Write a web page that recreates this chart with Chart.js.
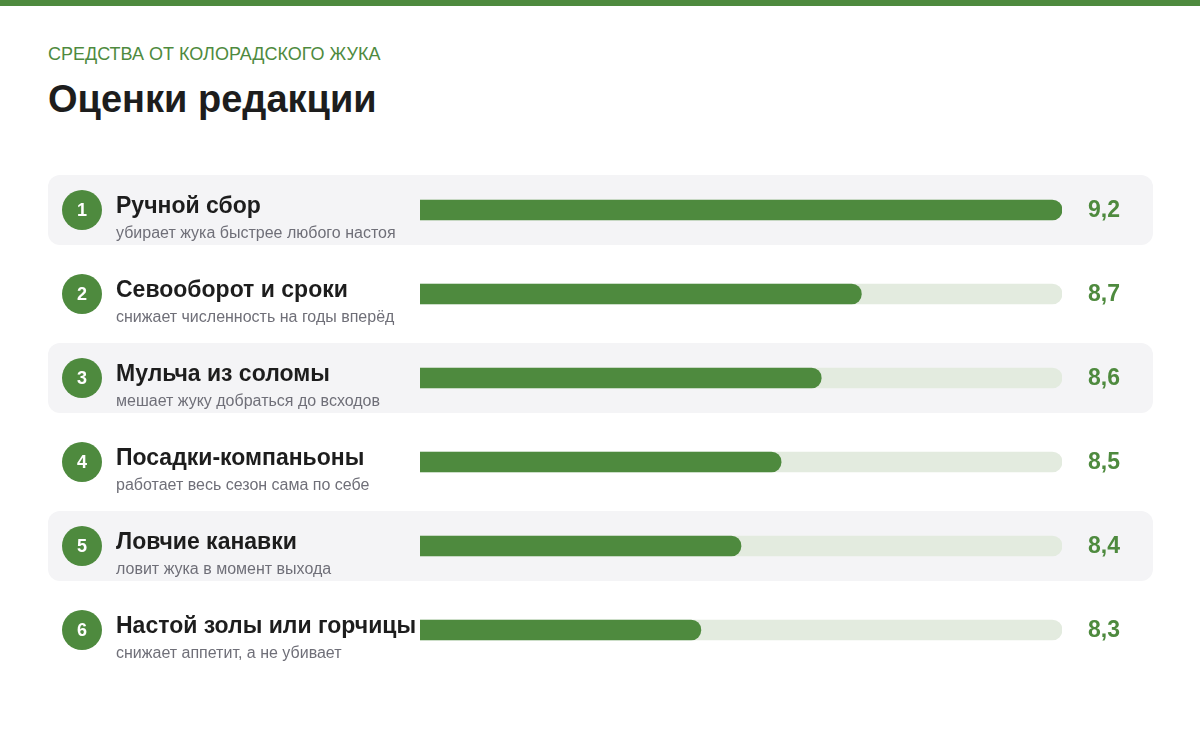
<!DOCTYPE html>
<html><head><meta charset="utf-8">
<script src="https://cdn.jsdelivr.net/npm/chart.js@4"></script>
<style>
body{margin:0;width:1200px;height:731px;background:#fff;font-family:"Liberation Sans",Arial,sans-serif;position:relative;overflow:hidden}
#topbar{position:absolute;left:0;top:0;width:1200px;height:6px;background:#4e8a3e}
#kicker{position:absolute;left:48px;top:44px;font-size:18px;color:#4e8a3e}
#title{position:absolute;left:48px;top:78px;font-size:38px;font-weight:bold;color:#1d1d1d}
#wrap{position:absolute;left:0;top:0;width:1200px;height:731px}
</style></head><body>
<div id="topbar"></div>
<div id="kicker">СРЕДСТВА ОТ КОЛОРАДСКОГО ЖУКА</div>
<div id="title">Оценки редакции</div>
<div id="wrap"><canvas id="c"></canvas></div>
<script>
var names = ['Ручной сбор','Севооборот и сроки','Мульча из соломы','Посадки-компаньоны','Ловчие канавки','Настой золы или горчицы'];
var notes = ['убирает жука быстрее любого настоя','снижает численность на годы вперёд','мешает жуку добраться до всходов','работает весь сезон сама по себе','ловит жука в момент выхода','снижает аппетит, а не убивает'];
var scores = [9.2, 8.7, 8.6, 8.5, 8.4, 8.3];
var scoreMin = 7.6, scoreMax = 9.2;
var labels = ['9,2','8,7','8,6','8,5','8,4','8,3'];

var green = '#4e8a3e';

var rowsPlugin = {
    id: 'rows',
    beforeDatasetsDraw: function(chart){
        var ctx = chart.ctx, y = chart.scales.y;
        ctx.save();
        for(var i=0; i<names.length; i++){
            var cy = y.getPixelForValue(i);
            if(i % 2 == 0){
                ctx.fillStyle = '#f4f4f6';
                ctx.beginPath();
                ctx.roundRect(48, cy-35, 1105, 70, 12);
                ctx.fill();
            }
            ctx.fillStyle = green;
            ctx.beginPath();
            ctx.arc(82, cy, 20, 0, Math.PI*2);
            ctx.fill();
            ctx.fillStyle = '#fff';
            ctx.font = 'bold 18px "Liberation Sans", Arial';
            ctx.textAlign = 'center';
            ctx.textBaseline = 'middle';
            ctx.fillText(String(i+1), 82, cy+1);
            ctx.textAlign = 'left';
            ctx.textBaseline = 'alphabetic';
            ctx.fillStyle = '#1d1d1d';
            ctx.font = 'bold 23px "Liberation Sans", Arial';
            ctx.fillText(names[i], 116, cy+3);
            ctx.fillStyle = '#6f6f78';
            ctx.font = '16px "Liberation Sans", Arial';
            ctx.fillText(notes[i], 116, cy+28);
        }
        ctx.restore();
    },
    afterDatasetsDraw: function(chart){
        var ctx = chart.ctx, y = chart.scales.y;
        ctx.save();
        ctx.fillStyle = green;
        ctx.font = 'bold 23px "Liberation Sans", Arial';
        ctx.textAlign = 'center';
        ctx.textBaseline = 'middle';
        for(var i=0; i<labels.length; i++){
            ctx.fillText(labels[i], 1104, y.getPixelForValue(i)+1);
        }
        ctx.restore();
    }
};

new Chart(document.getElementById('c').getContext('2d'), {
    type: 'bar',
    data: {
        labels: names,
        datasets: [{
            data: scores,
            backgroundColor: green,
            barThickness: 20,
            borderRadius: 10,
            borderSkipped: false
        },{
            data: scores.map(function(){ return scoreMax; }),
            backgroundColor: '#e3ebdf',
            barThickness: 20,
            borderRadius: 10,
            borderSkipped: false
        }]
    },
    options: {
        indexAxis: 'y',
        responsive: true,
        maintainAspectRatio: false,
        animation: false,
        grouped: false,
        layout: { padding: { left: 420, right: 138, top: 168, bottom: 59 } },
        plugins: { legend: { display: false }, tooltip: { enabled: false } },
        scales: {
            x: { display: false, min: scoreMin, max: scoreMax },
            y: { display: false }
        }
    },
    plugins: [rowsPlugin]
});
</script>
</body></html>
